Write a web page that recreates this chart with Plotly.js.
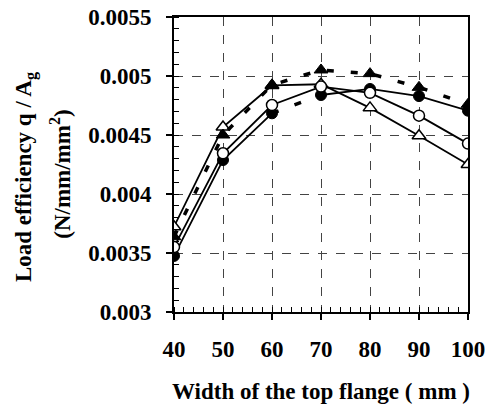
<!DOCTYPE html>
<html><head><meta charset="utf-8">
<script src="https://cdn.plot.ly/plotly-3.0.1.min.js"></script>
<style>html,body{margin:0;padding:0;background:#fff}</style>
</head><body><div id="chart" style="width:491px;height:412px"></div>
<script>
const widths = [40, 50, 60, 70, 80, 90, 100];
const openCircle = [0.00355, 0.004345, 0.004754, 0.00491, 0.004857, 0.004664, 0.004427];
const openTriangle = [0.003723, 0.004568, 0.00492, 0.00493, 0.00473, 0.004494, 0.00425];
const filledCircle = [0.003475, 0.004288, 0.004684, 0.004839, 0.00489, 0.00483, 0.004706];
const filledTriangle = [0.003638, 0.0045, 0.004924, 0.005051, 0.00502, 0.004904, 0.00476];
const yTickVals = [0.003, 0.0035, 0.004, 0.0045, 0.005, 0.0055];
const yTickText = ['0.003', '0.0035', '0.004', '0.0045', '0.005', '0.0055'];
const xTickVals = [40, 50, 60, 70, 80, 90, 100];
const xTickText = ['40', '50', '60', '70', '80', '90', '100'];
const yTitleLines = ['Load efficiency q / A<sub>g</sub>', '(N/mm/mm<sup>2</sup>)'];
const xTitle = 'Width of the top flange ( mm )';

const FONT = 'Liberation Serif, Times New Roman, serif';
const solid = {color: 'black', width: 1.8};
const dotted = {color: 'black', width: 3.5, dash: '7px,17px'};
const openMarker = (sym, size) => ({symbol: sym, size: size, color: 'white', line: {color: 'black', width: 1.5}});
const fillMarker = (sym, size) => ({symbol: sym, size: size, color: 'black', line: {color: 'black', width: 1}});

// filled-circle series: solid except the 60->70 segment, which is dotted in the reference
const cX = [...widths.slice(0, 3), null, ...widths.slice(3)];
const cY = [...filledCircle.slice(0, 3), null, ...filledCircle.slice(3)];

const traces = [
  {x: cX, y: cY, mode: 'lines', line: solid, connectgaps: false, showlegend: false},
  {x: widths.slice(2, 4), y: filledCircle.slice(2, 4), mode: 'lines', line: dotted, showlegend: false},
  {x: widths, y: filledCircle, mode: 'markers', marker: fillMarker('circle', 11), showlegend: false},
  {x: widths, y: openTriangle, mode: 'lines+markers', line: solid, marker: openMarker('triangle-up', 12), showlegend: false},
  {x: widths, y: openCircle, mode: 'lines+markers', line: solid, marker: openMarker('circle', 11), showlegend: false},
  {x: widths, y: filledTriangle, mode: 'lines+markers', line: dotted, marker: fillMarker('triangle-up', 12), showlegend: false}
];

const tickFont = {family: FONT, size: 23, color: 'black', weight: 'bold'};
const layout = {
  width: 491, height: 412,
  margin: {l: 174, r: 23, t: 17, b: 100},
  paper_bgcolor: 'white', plot_bgcolor: 'white',
  showlegend: false,
  xaxis: {
    range: [40, 100], tickmode: 'array', tickvals: xTickVals, ticktext: xTickText,
    ticks: 'outside', ticklen: 6, tickwidth: 1.5, tickcolor: 'black',
    showline: true, linecolor: 'black', linewidth: 2, mirror: true,
    showgrid: true, gridcolor: '#444', griddash: 'dash', gridwidth: 1, zeroline: false,
    minor: {tickmode: 'linear', tick0: 40, dtick: 2, ticks: 'inside', ticklen: 5, tickwidth: 1, tickcolor: 'black', showgrid: false},
    tickfont: tickFont, ticklabelstandoff: 9,
    title: {text: xTitle, font: tickFont, standoff: 22}
  },
  yaxis: {
    range: [0.003, 0.0055], tickmode: 'array', tickvals: yTickVals, ticktext: yTickText,
    ticks: 'outside', ticklen: 6, tickwidth: 1.5, tickcolor: 'black',
    showline: true, linecolor: 'black', linewidth: 2, mirror: true,
    showgrid: true, gridcolor: '#444', griddash: 'dash', gridwidth: 1, zeroline: false,
    minor: {tickmode: 'linear', tick0: 0.003, dtick: 0.0001, ticks: 'inside', ticklen: 5, tickwidth: 1, tickcolor: 'black', showgrid: false},
    tickfont: tickFont, ticklabelstandoff: 10
  },
  annotations: [
    {text: yTitleLines[0], xref: 'paper', yref: 'paper', x: -0.503, y: 0.458, xanchor: 'center', yanchor: 'middle', textangle: -90, showarrow: false, font: tickFont},
    {text: yTitleLines[1], xref: 'paper', yref: 'paper', x: -0.385, y: 0.468, xanchor: 'center', yanchor: 'middle', textangle: -90, showarrow: false, font: tickFont}
  ]
};
Plotly.newPlot('chart', traces, layout, {staticPlot: true, displayModeBar: false});
</script></body></html>
